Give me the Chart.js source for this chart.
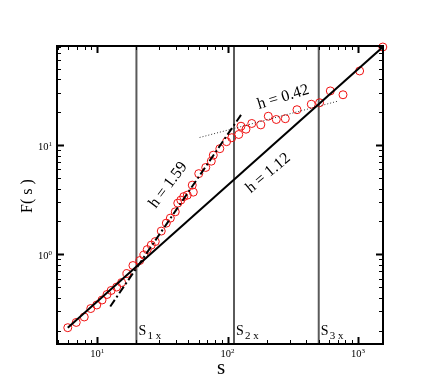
<!DOCTYPE html>
<html>
<head>
<meta charset="utf-8">
<script src="https://cdn.jsdelivr.net/npm/chart.js@4.4.1/dist/chart.umd.min.js"></script>
<style>
  body { margin: 0; background: #fff; }
  #wrap { width: 436px; height: 388px; }
</style>
</head>
<body>
<div id="wrap"><canvas id="fsChart" width="436" height="388"></canvas></div>
<script>
// -- DATA
const sVals = [5.95, 6.91, 7.96, 8.93, 9.93, 10.9, 11.9, 12.8, 14.1, 15.4,
    16.9, 18.8, 21.2, 22.8, 24.2, 26.0, 27.9, 31.0, 33.9, 36.4,
    39.7, 41.5, 43.8, 46.1, 49.1, 54.6, 53.6, 60.1, 68.0, 75.0,
    77.7, 87.2, 98.2, 107.7, 121.8, 126.7, 138.4, 153.3, 179.7, 205.1,
    236.3, 277.0, 340.6, 438.4, 507.6, 613.2, 767.4, 1029, 1550];
const fVals = [0.213, 0.238, 0.267, 0.319, 0.344, 0.382, 0.429, 0.467, 0.502, 0.552,
    0.667, 0.790, 0.878, 0.985, 1.106, 1.216, 1.31, 1.634, 1.933, 2.148,
    2.454, 2.947, 3.139, 3.38, 3.487, 3.715, 4.306, 5.486, 6.252, 7.14,
    8.1, 9.29, 10.77, 11.71, 12.53, 14.92, 14.01, 15.8, 15.34, 18.42,
    17.19, 17.48, 21.13, 23.72, 24.48, 31.4, 28.97, 47.85, 79.3];

// fitted lines: end points [s, F]
const fit112S = [5.95, 1550];
const fit112F = [0.213, 79.3];
const fit159S = [12.6, 129.6];
const fit159F = [0.333, 19.71];
const fit042S = [61.0, 697.7];
const fit042F = [11.76, 25.27];

// crossover positions
const crossS = [20, 112, 500];
const crossNames = ["1", "2", "3"];

const xMin = 4.92, xMax = 1555;
const yMin = 0.151, yMax = 81;

// annotations: text, s, F, angle (deg)
const notes = [
    { text: "h = 1.59", s: 35.1, f: 4.31, rot: -53 },
    { text: "h = 0.42", s: 267, f: 27.5, rot: -17 },
    { text: "h = 1.12", s: 205, f: 5.54, rot: -40 }
];

const SERIF = "'Liberation Serif', 'DejaVu Serif', serif";

function pts(xs, ys) {
    return xs.map((x, i) => ({ x: x, y: ys[i] }));
}

// -- DECORATION PLUGIN (frame, inward ticks, labels)
const decor = {
    id: "decor",
    afterDatasetsDraw(chart) {
        const ctx = chart.ctx;
        const a = chart.chartArea;
        const xs = chart.scales.x;
        const ys = chart.scales.y;
        ctx.save();

        // crossover labels
        crossS.forEach((s, i) => {
            const px = xs.getPixelForValue(s);
            ctx.fillStyle = "#000";
            ctx.font = "14px " + SERIF;
            ctx.textBaseline = "alphabetic";
            ctx.textAlign = "left";
            ctx.fillText("S", px + 2, a.bottom - 9);
            ctx.font = "11px " + SERIF;
            ctx.fillText(crossNames[i] + " x", px + 11, a.bottom - 5.5);
        });

        // ticks
        ctx.strokeStyle = "#000";
        for (let d = -1; d <= 3; d++) {
            for (let m = 1; m <= 9; m++) {
                const v = m * Math.pow(10, d);
                const major = m === 1;
                const len = major ? 7 : 4;
                ctx.lineWidth = major ? 2 : 1;
                if (v >= xMin && v <= xMax) {
                    const px = Math.round(xs.getPixelForValue(v)) + 0.5;
                    ctx.beginPath();
                    ctx.moveTo(px, a.bottom); ctx.lineTo(px, a.bottom - len);
                    ctx.moveTo(px, a.top); ctx.lineTo(px, a.top + len);
                    ctx.stroke();
                }
                if (v >= yMin && v <= yMax) {
                    const py = Math.round(ys.getPixelForValue(v)) + 0.5;
                    ctx.beginPath();
                    ctx.moveTo(a.left, py); ctx.lineTo(a.left + len, py);
                    ctx.moveTo(a.right, py); ctx.lineTo(a.right - len, py);
                    ctx.stroke();
                }
            }
        }

        // frame
        ctx.lineWidth = 2;
        ctx.strokeRect(a.left, a.top, a.right - a.left, a.bottom - a.top);

        // tick labels 10^n
        ctx.fillStyle = "#000";
        ctx.textBaseline = "alphabetic";
        for (let d = -1; d <= 3; d++) {
            const v = Math.pow(10, d);
            ctx.font = "10.5px " + SERIF;
            const w10 = ctx.measureText("10").width;
            ctx.font = "7px " + SERIF;
            const wE = ctx.measureText(String(d)).width;
            if (v >= xMin && v <= xMax) {
                const px = xs.getPixelForValue(v);
                const x0 = px - (w10 + wE) / 2;
                ctx.textAlign = "left";
                ctx.font = "10.5px " + SERIF;
                ctx.fillText("10", x0, a.bottom + 13);
                ctx.font = "7px " + SERIF;
                ctx.fillText(String(d), x0 + w10, a.bottom + 9);
            }
            if (v >= yMin && v <= yMax) {
                const py = ys.getPixelForValue(v);
                const x0 = a.left - 5 - wE - w10;
                ctx.textAlign = "left";
                ctx.font = "10.5px " + SERIF;
                ctx.fillText("10", x0, py + 5);
                ctx.font = "7px " + SERIF;
                ctx.fillText(String(d), x0 + w10, py + 0.5);
            }
        }

        // axis titles
        ctx.textAlign = "center";
        ctx.font = "21px " + SERIF;
        ctx.fillText("s", (a.left + a.right) / 2 + 1, a.bottom + 30);
        ctx.save();
        ctx.translate(32, 196);
        ctx.rotate(-Math.PI / 2);
        ctx.font = "16px " + SERIF;
        ctx.fillText("F( s )", 0, 0);
        ctx.restore();

        // slope notes
        ctx.font = "16px " + SERIF;
        ctx.textBaseline = "middle";
        notes.forEach(n => {
            ctx.save();
            ctx.translate(xs.getPixelForValue(n.s), ys.getPixelForValue(n.f));
            ctx.rotate(n.rot * Math.PI / 180);
            ctx.fillText(n.text, 0, 0);
            ctx.restore();
        });

        ctx.restore();
    }
};

// -- CHART
const lineSet = (data, opts) => Object.assign({
    data: data,
    showLine: true,
    pointRadius: 0,
    borderColor: "#000",
    borderWidth: 2,
    fill: false
}, opts);

const datasets = [
    lineSet(pts(fit112S, fit112F), {}),
    lineSet(pts(fit159S, fit159F), { borderDash: [8, 3, 2, 3] }),
    lineSet(pts(fit042S, fit042F), { borderWidth: 1, borderColor: "#333", borderDash: [1, 2] }),
    {
        data: pts(sVals, fVals),
        showLine: false,
        pointRadius: 4,
        pointStyle: "circle",
        borderColor: "#f01010",
        backgroundColor: "rgba(0,0,0,0)",
        borderWidth: 1,
        clip: false
    }
];
crossS.forEach(s => {
    datasets.push(lineSet(pts([s, s], [yMin, yMax]), { borderColor: "#5a5a5a", borderWidth: 2 }));
});

new Chart(document.getElementById("fsChart").getContext("2d"), {
    type: "scatter",
    data: { datasets: datasets },
    options: {
        responsive: false,
        animation: false,
        layout: { padding: { left: 57, top: 46, right: 53, bottom: 44 } },
        plugins: { legend: { display: false }, tooltip: { enabled: false } },
        scales: {
            x: { type: "logarithmic", min: xMin, max: xMax, display: false },
            y: { type: "logarithmic", min: yMin, max: yMax, display: false }
        }
    },
    plugins: [decor]
});
</script>
</body>
</html>
